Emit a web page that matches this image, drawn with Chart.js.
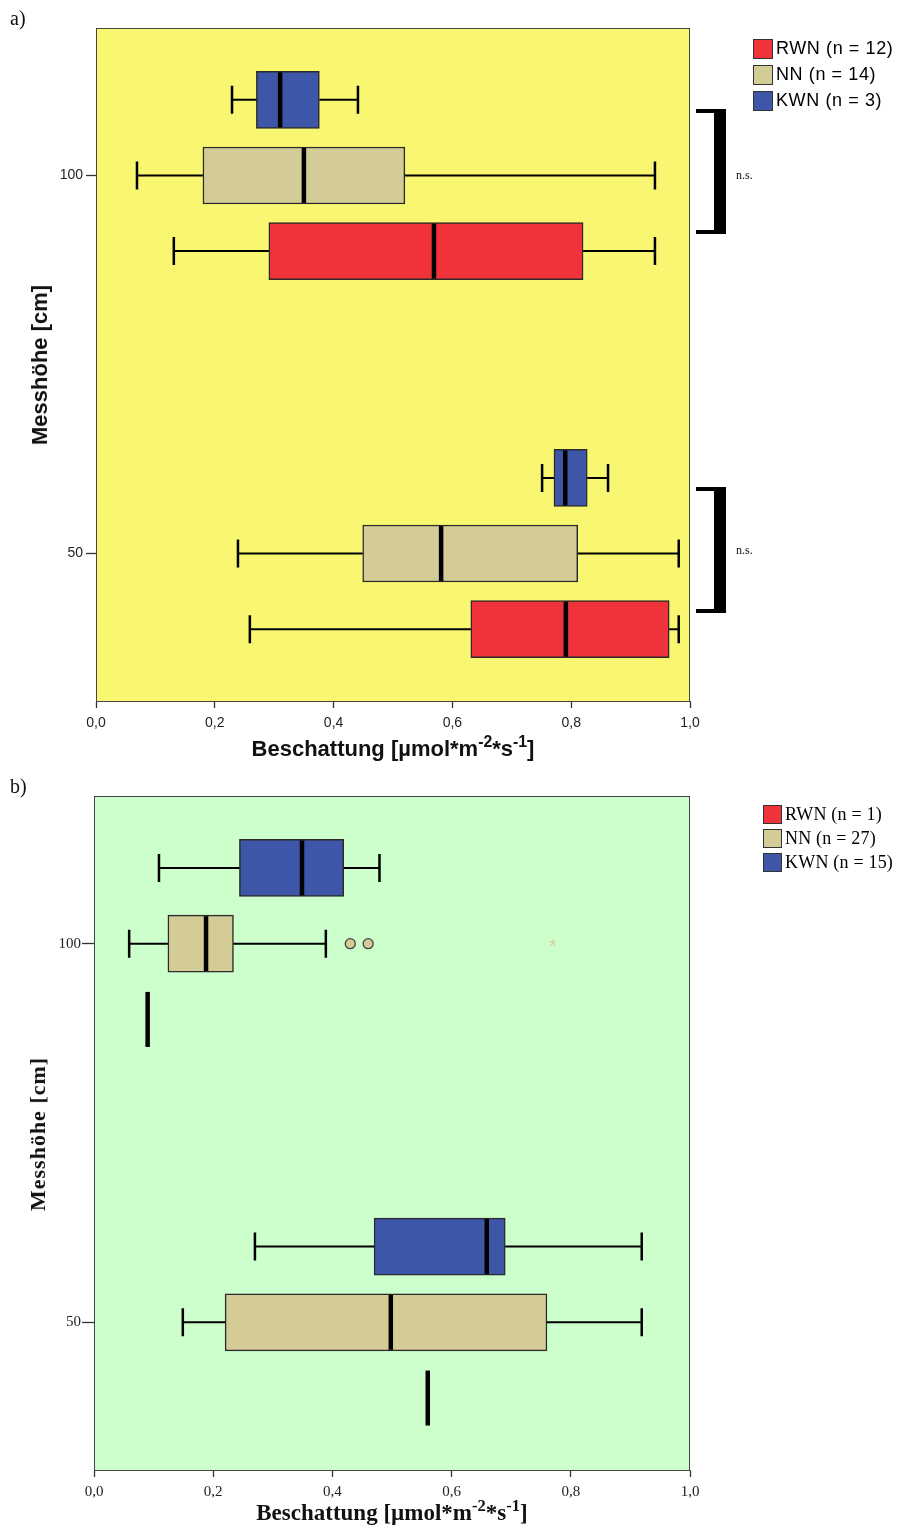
<!DOCTYPE html>
<html>
<head>
<meta charset="utf-8">
<script src="https://cdn.jsdelivr.net/npm/chart.js@4/dist/chart.umd.min.js"></script>
<style>
  html, body { margin:0; padding:0; background:#fff; }
  body { width:898px; height:1528px; position:relative; overflow:hidden; }
  canvas { position:absolute; left:0; }
  .abs { position:absolute; white-space:nowrap; color:#111; }
  .sans { font-family:"Liberation Sans", Arial, sans-serif; }
  .serif { font-family:"Liberation Serif", "Times New Roman", serif; }
  .legrow { position:absolute; display:flex; align-items:center; }
  .sw { box-sizing:border-box; border:1px solid #333; margin-right:3px; }
  .ytitle { transform:translate(-50%,-50%) rotate(-90deg); font-weight:bold; }
  .xtitle { text-align:center; font-weight:bold; }
  .xtitle sup { font-size:0.72em; vertical-align:0.55em; line-height:0; }
  .bracket { position:absolute; box-sizing:border-box; border-top:4px solid #000; border-bottom:4px solid #000; border-right:12px solid #000; }
  .ns { font-size:12px; }
</style>
</head>
<body>
<canvas id="chartA" width="898" height="740" style="top:0;width:898px;height:740px"></canvas>
<canvas id="chartB" width="898" height="741" style="top:768px;width:898px;height:741px"></canvas>

<div class="abs serif" style="left:10px;top:7px;font-size:20px;">a)</div>
<div class="abs serif" style="left:10px;top:775px;font-size:20px;">b)</div>

<div id="legendA"></div>
<div id="legendB"></div>

<div class="bracket" style="left:696px;top:109px;width:30px;height:125px;"></div>
<div class="abs serif ns" style="left:736px;top:168px;">n.s.</div>
<div class="bracket" style="left:696px;top:487px;width:30px;height:126px;"></div>
<div class="abs serif ns" style="left:736px;top:543px;">n.s.</div>

<div class="abs sans xtitle" style="left:96px;width:594px;top:736px;font-size:22px;">Beschattung [µmol*m<sup>-2</sup>*s<sup>-1</sup>]</div>
<div class="abs sans ytitle" style="left:40px;top:365px;font-size:22px;">Messhöhe [cm]</div>

<div class="abs serif xtitle" style="left:94px;width:596px;top:1500px;font-size:23px;">Beschattung [µmol*m<sup>-2</sup>*s<sup>-1</sup>]</div>
<div class="abs serif ytitle" style="left:38px;top:1134px;font-size:22px;letter-spacing:1px;">Messhöhe [cm]</div>

<script>
// ---------------- DATA ----------------
const categories = ['100', '50'];             // Messhöhe [cm]
const seriesNames = ['RWN', 'NN', 'KWN'];
const xTickLabels = ['0,0', '0,2', '0,4', '0,6', '0,8', '1,0'];

// five-number summaries per category: [min, q1, median, q3, max]
// chart a)
const aRWN = [[0.131, 0.291, 0.569, 0.820, 0.941], [0.259, 0.631, 0.791, 0.965, 0.981]];
const aNN  = [[0.069, 0.180, 0.350, 0.520, 0.941], [0.239, 0.449, 0.581, 0.811, 0.981]];
const aKWN = [[0.229, 0.270, 0.310, 0.376, 0.441], [0.751, 0.771, 0.790, 0.827, 0.862]];
const aLegend = ['RWN (n = 12)', 'NN (n = 14)', 'KWN (n = 3)'];

// chart b)
const bRWN = [[0.090, 0.090, 0.090, 0.090, 0.090], [0.560, 0.560, 0.560, 0.560, 0.560]];
const bNN  = [[0.059, 0.124, 0.188, 0.234, 0.389], [0.149, 0.220, 0.498, 0.760, 0.919]];
const bKWN = [[0.109, 0.244, 0.349, 0.419, 0.479], [0.270, 0.470, 0.659, 0.690, 0.919]];
const bNNOutliers = [[0.430, 0.460], []];
const bNNExtremes = [[0.770], []];
const bLegend = ['RWN (n = 1)', 'NN (n = 27)', 'KWN (n = 15)'];

const seriesColors = ['#F0323A', '#D3CC96', '#3E56A8'];

// ---------------- HELPERS ----------------
const catPos = { '100': 1, '50': 0 };
const seriesOffset = [-0.2, 0, 0.2];

function buildDatasets(stats, outliers, extremes) {
  return seriesNames.map((name, si) => ({
    label: name,
    data: categories.map((c, ci) => ({ x: [stats[si][ci][1], stats[si][ci][3]], y: catPos[c] + seriesOffset[si] })),
    stats: stats[si],
    outliers: outliers[si],
    extremes: extremes[si],
    backgroundColor: seriesColors[si],
    borderColor: '#2a2a2a',
    borderWidth: 1.5,
    borderSkipped: false,
    barThickness: 57,
    grouped: false
  }));
}

const boxPlugin = {
  id: 'boxExtras',
  beforeDraw(chart, args, opts) {
    const { ctx, chartArea: a } = chart;
    ctx.save();
    ctx.fillStyle = opts.bg;
    ctx.fillRect(a.left, a.top, a.right - a.left, a.bottom - a.top);
    ctx.restore();
  },
  afterDatasetsDraw(chart, args, opts) {
    const { ctx, chartArea: a } = chart;
    const xs = chart.scales.x, ys = chart.scales.y;
    const px = v => xs.getPixelForValue(v);
    ctx.save();
    chart.data.datasets.forEach((ds, di) => {
      ds.stats.forEach((s, i) => {
        const yc = ys.getPixelForValue(ds.data[i].y);
        const h = 57;
        ctx.strokeStyle = '#000';
        if (s[0] !== s[4]) {
          ctx.lineWidth = 2;
          ctx.beginPath();
          ctx.moveTo(px(s[0]), yc); ctx.lineTo(px(s[1]), yc);
          ctx.moveTo(px(s[3]), yc); ctx.lineTo(px(s[4]), yc);
          ctx.stroke();
          ctx.lineWidth = 2.5;
          ctx.beginPath();
          ctx.moveTo(px(s[0]), yc - 14); ctx.lineTo(px(s[0]), yc + 14);
          ctx.moveTo(px(s[4]), yc - 14); ctx.lineTo(px(s[4]), yc + 14);
          ctx.stroke();
        }
        ctx.lineWidth = 4.5;
        ctx.beginPath();
        ctx.moveTo(px(s[2]), yc - h / 2 + 1); ctx.lineTo(px(s[2]), yc + h / 2 - 1);
        ctx.stroke();
        (ds.outliers && ds.outliers[i] || []).forEach(v => {
          ctx.beginPath();
          ctx.arc(px(v), yc, 5, 0, Math.PI * 2);
          ctx.fillStyle = ds.backgroundColor;
          ctx.fill();
          ctx.lineWidth = 1.3;
          ctx.strokeStyle = '#444';
          ctx.stroke();
        });
        (ds.extremes && ds.extremes[i] || []).forEach(v => {
          ctx.fillStyle = '#DCD09C';
          ctx.font = '20px "Liberation Sans"';
          ctx.textAlign = 'center';
          ctx.textBaseline = 'middle';
          ctx.fillText('*', px(v), yc + 4);
        });
      });
    });
    ctx.strokeStyle = '#444';
    ctx.lineWidth = 1;
    ctx.strokeRect(Math.round(a.left) + 0.5, Math.round(a.top) + 0.5, Math.round(a.right - a.left) - 1, Math.round(a.bottom - a.top));
    ctx.restore();
  }
};

function makeChart(id, stats, outliers, extremes, o) {
  return new Chart(document.getElementById(id), {
    type: 'bar',
    data: { datasets: buildDatasets(stats, outliers, extremes) },
    plugins: [boxPlugin],
    options: {
      indexAxis: 'y',
      responsive: false,
      animation: false,
      events: [],
      layout: { padding: { top: 28, right: 208, left: 0, bottom: 0 } },
      plugins: { legend: { display: false }, tooltip: { enabled: false }, boxExtras: { bg: o.bg } },
      scales: {
        x: {
          type: 'linear', min: 0, max: 1,
          afterBuildTicks: s => { s.ticks = xTickLabels.map((t, i) => ({ value: i * 0.2 })); },
          ticks: { callback: (v, i) => xTickLabels[i], font: o.tickFont, color: '#222', padding: o.xPad, maxRotation: 0, autoSkip: false },
          grid: { drawOnChartArea: false, drawTicks: true, tickLength: 7, color: '#333', tickWidth: 1.3 },
          border: { display: true, color: '#444' },
          afterFit: s => { s.height = 39; }
        },
        y: {
          type: 'linear', min: -0.39, max: 1.39, offset: false,
          afterBuildTicks: s => { s.ticks = categories.map(c => ({ value: catPos[c] })); },
          ticks: { callback: v => categories.find(c => catPos[c] === v) || '', font: o.tickFont, color: '#222', padding: o.yPad },
          grid: { drawOnChartArea: false, drawTicks: true, tickLength: o.yTick, color: '#333', tickWidth: 1.3, offset: false },
          border: { display: true, color: '#444' },
          afterFit: s => { s.width = o.left; }
        }
      }
    }
  });
}

makeChart('chartA', [aRWN, aNN, aKWN], [null, null, null], [null, null, null],
  { bg: '#F9F671', left: 96, tickFont: { family: 'Liberation Sans', size: 14 }, xPad: 7, yPad: 3, yTick: 10 });
makeChart('chartB', [bRWN, bNN, bKWN], [null, bNNOutliers, null], [null, bNNExtremes, null],
  { bg: '#CCFFCC', left: 94, tickFont: { family: 'Liberation Serif', size: 15 }, xPad: 6, yPad: 1, yTick: 12 });

// ---------------- LEGENDS ----------------
function legend(id, labels, o) {
  const el = document.getElementById(id);
  labels.forEach((t, i) => {
    const row = document.createElement('div');
    row.className = 'legrow ' + o.cls;
    row.style.left = o.left + 'px';
    row.style.top = (o.top + i * o.step) + 'px';
    row.style.fontSize = o.size + 'px';
    row.style.letterSpacing = o.ls + 'px';
    const sw = document.createElement('div');
    sw.className = 'sw';
    sw.style.width = o.sw + 'px'; sw.style.height = o.sw + 'px';
    sw.style.background = seriesColors[i];
    const tx = document.createElement('span');
    tx.textContent = t;
    row.appendChild(sw); row.appendChild(tx);
    el.appendChild(row);
  });
}
legend('legendA', aLegend, { cls: 'sans', left: 753, top: 38, step: 26, size: 18, sw: 20, ls: 0.6 });
legend('legendB', bLegend, { cls: 'serif', left: 763, top: 804, step: 24, size: 18, sw: 19, ls: 0.2 });
</script>
</body>
</html>
